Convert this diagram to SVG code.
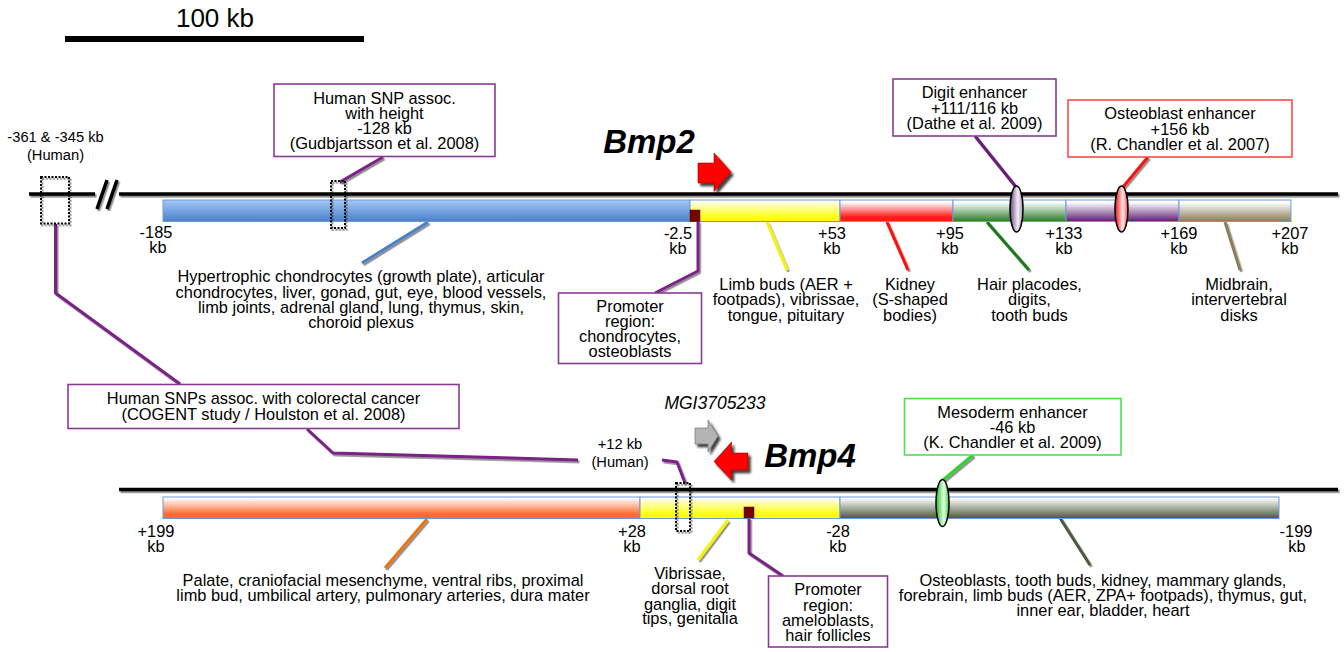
<svg xmlns="http://www.w3.org/2000/svg" width="1344" height="652" viewBox="0 0 1344 652">
<style>
text{font-family:"Liberation Sans",Arial,sans-serif;fill:#000;text-anchor:middle;font-size:16.4px}
.s{font-size:14.7px}
.gene{font-weight:bold;font-style:italic;font-size:33px}
.bx{fill:#fff;stroke-width:1.6}
.pb{stroke:#8a3a96}
.bar{stroke:#6a9ade;stroke-width:1}
.main{stroke:#000;stroke-width:3.5;fill:none}
.cn{fill:none;stroke-width:3;stroke-linejoin:round}
.dot{fill:none;stroke:#000;stroke-width:2;stroke-dasharray:2 1.5}
.ell{stroke:#000;stroke-width:1.5}
</style>
<defs>
<filter id="sh" x="-20%" y="-20%" width="140%" height="140%"><feDropShadow dx="1.5" dy="1.8" stdDeviation="0.6" flood-color="#000" flood-opacity="0.45"/></filter>
<filter id="ash" x="-20%" y="-20%" width="150%" height="150%"><feDropShadow dx="2.5" dy="3" stdDeviation="0.8" flood-color="#000" flood-opacity="0.75"/></filter>
<linearGradient id="gBlue" x1="0" y1="0" x2="0" y2="1"><stop offset="0" stop-color="#a2c8f7"/><stop offset="1" stop-color="#4b7fc8"/></linearGradient>
<linearGradient id="gYel" x1="0" y1="0" x2="0" y2="1"><stop offset="0" stop-color="#ffffff"/><stop offset="0.75" stop-color="#ffff20"/><stop offset="1" stop-color="#ffff00"/></linearGradient>
<linearGradient id="gRed" x1="0" y1="0" x2="0" y2="1"><stop offset="0.1" stop-color="#ffffff"/><stop offset="0.8" stop-color="#ff1a1a"/></linearGradient>
<linearGradient id="gGrn" x1="0" y1="0" x2="0" y2="1"><stop offset="0.1" stop-color="#ffffff"/><stop offset="1" stop-color="#2a7a2a"/></linearGradient>
<linearGradient id="gPur" x1="0" y1="0" x2="0" y2="1"><stop offset="0.1" stop-color="#ffffff"/><stop offset="1" stop-color="#5e1f70"/></linearGradient>
<linearGradient id="gTan" x1="0" y1="0" x2="0" y2="1"><stop offset="0.1" stop-color="#ffffff"/><stop offset="1" stop-color="#877c55"/></linearGradient>
<linearGradient id="gOra" x1="0" y1="0" x2="0" y2="1"><stop offset="0.05" stop-color="#ffffff"/><stop offset="0.8" stop-color="#ff6a30"/></linearGradient>
<linearGradient id="gOli" x1="0" y1="0" x2="0" y2="1"><stop offset="0.05" stop-color="#ffffff"/><stop offset="1" stop-color="#4a583a"/></linearGradient>
<linearGradient id="eP" x1="0" y1="0" x2="1" y2="0"><stop offset="0" stop-color="#6a4878"/><stop offset="0.6" stop-color="#f4eef6"/><stop offset="1" stop-color="#a898b4"/></linearGradient>
<linearGradient id="eR" x1="0" y1="0" x2="1" y2="0"><stop offset="0" stop-color="#ee1010"/><stop offset="0.6" stop-color="#ffe6e6"/><stop offset="1" stop-color="#ff5050"/></linearGradient>
<linearGradient id="eG" x1="0" y1="0" x2="1" y2="0"><stop offset="0" stop-color="#20c020"/><stop offset="0.6" stop-color="#e6ffe6"/><stop offset="1" stop-color="#40d040"/></linearGradient>
</defs>
<rect width="1344" height="652" fill="#fff"/>

<g id="scale">
<text x="215" y="27" style="font-size:26px">100 kb</text>
<rect x="65" y="36" width="299" height="6" fill="#000"/>
</g>

<g id="chromosome-lines" filter="url(#sh)">
<line class="main" x1="29" y1="194" x2="95" y2="194"/>
<line class="main" x1="97" y1="209" x2="107" y2="180"/>
<line class="main" x1="107" y1="209" x2="117" y2="180"/>
<line class="main" x1="119" y1="194" x2="1338" y2="194"/>
<line class="main" x1="119" y1="489.5" x2="1338" y2="489.5"/>
</g>

<g id="connectors">
<g filter="url(#sh)">
<polyline class="cn" stroke="#7a2186" stroke-width="2" points="55.5,224 55.5,293 180,384"/>
<line class="cn" stroke="#7a2186" x1="383" y1="157" x2="340" y2="182"/>
<polyline class="cn" stroke="#7a2186" stroke-width="2" points="307,429 333,453 578,460"/>
<polyline class="cn" stroke="#7a2186" stroke-width="2" points="662,460 677,462 685,483"/>
<polyline class="cn" stroke="#7a2186" stroke-width="2" points="698,221 698,271 655,293"/>
<line class="cn" stroke="#6a1a7a" x1="975" y1="136" x2="1016" y2="187"/>
<line class="cn" stroke="#ff1010" x1="1148" y1="157" x2="1123" y2="187"/>
<line class="cn" stroke="#4a80c8" x1="428" y1="222" x2="362" y2="263"/>
<line class="cn" stroke="#f4f400" x1="767" y1="222" x2="787" y2="270"/>
<line class="cn" stroke="#ff1010" x1="887" y1="222" x2="908" y2="270"/>
<line class="cn" stroke="#1a7a1a" x1="987" y1="222" x2="1029" y2="270"/>
<line class="cn" stroke="#8a7e58" x1="1225" y1="222" x2="1240" y2="270"/>
<line class="cn" stroke="#f07010" x1="427" y1="519" x2="385" y2="568"/>
<line class="cn" stroke="#f4f400" x1="728" y1="520" x2="698" y2="560"/>
<polyline class="cn" stroke="#7a2186" stroke-width="2" points="749,518 749,553 783,576"/>
<line class="cn" stroke="#30d030" x1="973" y1="455" x2="943" y2="480"/>
<line class="cn" stroke="#4c5a3c" x1="1060" y1="518" x2="1090" y2="565"/>
</g>
</g>

<g id="bmp2-locus">
<rect class="bar" x="163" y="200" width="527" height="21.5" fill="url(#gBlue)"/>
<rect class="bar" x="690" y="200" width="150" height="21.5" fill="url(#gYel)"/>
<rect class="bar" x="840" y="200" width="113" height="21.5" fill="url(#gRed)"/>
<rect class="bar" x="953" y="200" width="113" height="21.5" fill="url(#gGrn)"/>
<rect class="bar" x="1066" y="200" width="113" height="21.5" fill="url(#gPur)"/>
<rect class="bar" x="1179" y="200" width="112" height="21.5" fill="url(#gTan)"/>
<rect x="690" y="210" width="10" height="11.5" fill="#7a0000" stroke="#4a0000" stroke-width="0.5"/>
</g>

<g id="bmp4-locus">
<rect class="bar" x="163" y="497" width="477" height="21.5" fill="url(#gOra)"/>
<rect class="bar" x="640" y="497" width="200" height="21.5" fill="url(#gYel)"/>
<rect class="bar" x="840" y="497" width="439" height="21.5" fill="url(#gOli)"/>
<rect x="744" y="507" width="10" height="11" fill="#7a0000" stroke="#4a0000" stroke-width="0.5"/>
</g>

<g id="enhancers">
<ellipse class="ell" cx="1016.5" cy="209" rx="6.5" ry="23" fill="url(#eP)"/>
<ellipse class="ell" cx="1121.5" cy="209" rx="6.5" ry="23" fill="url(#eR)"/>
<ellipse class="ell" cx="942.5" cy="503" rx="6.5" ry="23.5" fill="url(#eG)"/>
</g>

<g id="snp-regions" filter="url(#sh)">
<rect class="dot" x="41" y="177" width="28" height="46.5"/>
<rect class="dot" x="331" y="181" width="14" height="47"/>
<rect class="dot" x="676" y="483" width="14" height="48"/>
</g>

<g id="gene-bmp2">
<text class="gene" x="649" y="153">Bmp2</text>
<polygon filter="url(#ash)" points="698,163 714,163 714,153 731,172 714,191.5 714,183 698,183" fill="#ff0000" stroke="#900" stroke-width="0.6"/>
</g>

<g id="gene-mgi">
<text x="715" y="409" style="font-style:italic;font-size:17.5px">MGI3705233</text>
<polygon filter="url(#ash)" points="695,428 708,428 708,420 718,436 708,452 708,444 695,444" fill="#b4b4b4" stroke="#666" stroke-width="0.6"/>
</g>

<g id="gene-bmp4">
<text class="gene" x="810" y="467">Bmp4</text>
<polygon filter="url(#ash)" points="748,453 731.5,453 731.5,442 714,461.5 731.5,480 731.5,470 748,470" fill="#ff0000" stroke="#900" stroke-width="0.6"/>
</g>

<g id="coords-top">
<text x="156" y="238">-185</text><text x="158" y="253">kb</text>
<text x="678" y="239">-2.5</text><text x="678" y="254">kb</text>
<text x="832" y="239">+53</text><text x="832" y="254">kb</text>
<text x="950" y="239">+95</text><text x="950" y="254">kb</text>
<text x="1064" y="239">+133</text><text x="1064" y="254">kb</text>
<text x="1179" y="239">+169</text><text x="1179" y="254">kb</text>
<text x="1290" y="239">+207</text><text x="1290" y="254">kb</text>
</g>

<g id="coords-bottom">
<text x="156" y="537">+199</text><text x="156" y="552">kb</text>
<text x="632" y="537">+28</text><text x="632" y="552">kb</text>
<text x="838" y="537">-28</text><text x="838" y="552">kb</text>
<text x="1296" y="537">-199</text><text x="1297" y="552">kb</text>
</g>

<g id="label-human-left">
<text class="s" x="55.5" y="142">-361 &amp; -345 kb</text>
<text class="s" x="55.5" y="159.5">(Human)</text>
</g>

<g id="label-human-12">
<text class="s" x="620" y="449">+12 kb</text>
<text class="s" x="620" y="467">(Human)</text>
</g>

<g id="box-snp-height">
<rect class="bx pb" x="274" y="84" width="221" height="72.5"/>
<text x="384.5" y="103.5">Human SNP assoc.</text>
<text x="384.5" y="118.5">with height</text>
<text x="384.5" y="133.5">-128 kb</text>
<text x="384.5" y="148.5">(Gudbjartsson et al. 2008)</text>
</g>

<g id="box-digit">
<rect class="bx pb" x="893" y="79" width="163" height="57"/>
<text x="974.5" y="98">Digit enhancer</text>
<text x="974.5" y="113.5">+111/116 kb</text>
<text x="974.5" y="129">(Dathe et al. 2009)</text>
</g>

<g id="box-osteoblast">
<rect class="bx" stroke="#ff4a4a" x="1068" y="100" width="224" height="57"/>
<text x="1180" y="119">Osteoblast enhancer</text>
<text x="1180" y="134.5">+156 kb</text>
<text x="1180" y="150">(R. Chandler et al. 2007)</text>
</g>

<g id="box-colorectal">
<rect class="bx pb" x="68" y="384.5" width="391" height="44"/>
<text x="263.5" y="404">Human SNPs assoc. with colorectal cancer</text>
<text x="263.5" y="419.5">(COGENT study / Houlston et al. 2008)</text>
</g>

<g id="box-mesoderm">
<rect class="bx" stroke="#4ee04e" x="904.5" y="398.5" width="216.5" height="56.5"/>
<text x="1012.5" y="418">Mesoderm enhancer</text>
<text x="1012.5" y="433">-46 kb</text>
<text x="1012.5" y="448">(K. Chandler et al. 2009)</text>
</g>

<g id="box-promoter-bmp2">
<rect class="bx pb" x="558.5" y="293" width="143" height="70.5"/>
<text x="630" y="311.5">Promoter</text>
<text x="630" y="327">region:</text>
<text x="630" y="342">chondrocytes,</text>
<text x="630" y="357">osteoblasts</text>
</g>

<g id="box-promoter-bmp4">
<rect class="bx pb" x="768.5" y="576" width="119" height="71"/>
<text x="828" y="595">Promoter</text>
<text x="828" y="610.5">region:</text>
<text x="828" y="625.5">ameloblasts,</text>
<text x="828" y="640.5">hair follicles</text>
</g>

<g id="expr-blue">
<text x="361" y="282">Hypertrophic chondrocytes (growth plate), articular</text>
<text x="361" y="297.5">chondrocytes, liver, gonad, gut, eye, blood vessels,</text>
<text x="361" y="313">limb joints, adrenal gland, lung, thymus, skin,</text>
<text x="361" y="328">choroid plexus</text>
</g>
<g id="expr-yellow-top">
<text x="786" y="289.5">Limb buds (AER +</text>
<text x="786" y="305">footpads), vibrissae,</text>
<text x="786" y="320.5">tongue, pituitary</text>
</g>
<g id="expr-red">
<text x="910" y="289.5">Kidney</text>
<text x="910" y="305">(S-shaped</text>
<text x="910" y="320.5">bodies)</text>
</g>
<g id="expr-green">
<text x="1029.5" y="289.5">Hair placodes,</text>
<text x="1029.5" y="305">digits,</text>
<text x="1029.5" y="320.5">tooth buds</text>
</g>
<g id="expr-tan">
<text x="1239" y="289.5">Midbrain,</text>
<text x="1239" y="305">intervertebral</text>
<text x="1239" y="320.5">disks</text>
</g>
<g id="expr-orange">
<text x="383" y="585.5">Palate, craniofacial mesenchyme, ventral ribs, proximal</text>
<text x="383" y="600.5">limb bud, umbilical artery, pulmonary arteries, dura mater</text>
</g>
<g id="expr-yellow-bottom">
<text x="690" y="579">Vibrissae,</text>
<text x="690" y="594">dorsal root</text>
<text x="690" y="609.5">ganglia, digit</text>
<text x="690" y="624">tips, genitalia</text>
</g>
<g id="expr-olive">
<text x="1103" y="585.5">Osteoblasts, tooth buds, kidney, mammary glands,</text>
<text x="1103" y="600.5">forebrain, limb buds (AER, ZPA+ footpads), thymus, gut,</text>
<text x="1103" y="615.5">inner ear, bladder, heart</text>
</g>
</svg>
